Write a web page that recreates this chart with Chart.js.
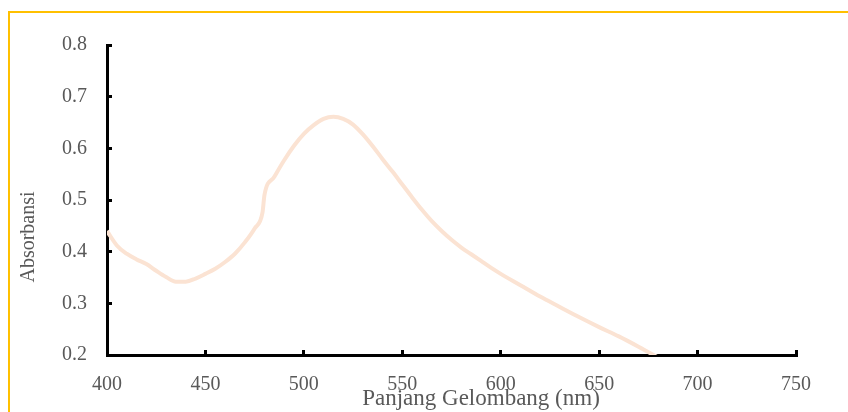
<!DOCTYPE html>
<html>
<head>
<meta charset="utf-8">
<script src="https://cdn.jsdelivr.net/npm/chart.js@4.4.1/dist/chart.umd.min.js"></script>
<style>
  html, body { margin: 0; padding: 0; background: #fff; }
  #wrap { position: relative; width: 848px; height: 412px; overflow: hidden; }
  #frame { position: absolute; left: 8px; top: 11px; width: 900px; height: 500px;
           border-top: 2px solid #FFC000; border-left: 2px solid #FFC000; }
  #absChart { position: absolute; left: 0; top: 0; }
</style>
</head>
<body>
<div id="wrap">
  <div id="frame"></div>
  <canvas id="absChart" width="848" height="412"></canvas>
</div>
<script>
// Spectrum
const wavelengths = [400, 405, 410, 415, 420, 425, 430, 435, 440, 445, 450, 455, 460, 465, 470, 475, 479,
    480, 485, 490, 495, 500, 505, 510, 515, 520, 525, 530, 535, 540, 545, 550, 555, 560, 565, 570, 575,
    580, 585, 590, 595, 600, 610, 620, 630, 640, 650, 660, 670, 680];
const absorbance = [0.440, 0.412, 0.396, 0.385, 0.376, 0.363, 0.351, 0.342, 0.342, 0.348, 0.357, 0.367, 0.380,
    0.396, 0.418, 0.445, 0.476,
    0.510, 0.545, 0.577, 0.605, 0.628, 0.645, 0.657, 0.661, 0.657, 0.646, 0.627, 0.604, 0.579, 0.555, 0.530,
    0.505, 0.481, 0.459, 0.440, 0.423,
    0.408, 0.395, 0.382, 0.369, 0.357, 0.335, 0.313, 0.293, 0.273, 0.254, 0.236, 0.216, 0.195];
const xTitle = 'Panjang Gelombang (nm)';
const yTitle = 'Absorbansi';

const textGray = '#595959';
const serif = "'Liberation Serif', 'Times New Roman', serif";

// axis titles sit off-centre in the original, so place them by hand
const axisTitles = {
    id: 'axisTitles',
    afterDraw(chart) {
        const ctx = chart.ctx;
        ctx.save();
        ctx.fillStyle = textGray;
        ctx.textAlign = 'center';
        ctx.textBaseline = 'alphabetic';
        ctx.font = '23px ' + serif;
        ctx.fillText(xTitle, 481, 405);
        ctx.font = '20px ' + serif;
        ctx.translate(34, 237);
        ctx.rotate(-Math.PI / 2);
        ctx.fillText(yTitle, 0, 0);
        ctx.restore();
    }
};

new Chart(document.getElementById('absChart'), {
    type: 'line',
    data: {
        datasets: [{
            data: wavelengths.map((w, i) => ({ x: w, y: absorbance[i] })),
            borderColor: '#FBE3D3',
            borderWidth: 4,
            pointRadius: 0,
            cubicInterpolationMode: 'monotone',
            fill: false
        }]
    },
    options: {
        responsive: false,
        animation: false,
        layout: { padding: { top: 45, right: 52, left: 0, bottom: 0 } },
        plugins: { legend: { display: false }, tooltip: { enabled: false } },
        scales: {
            x: {
                type: 'linear',
                min: 400,
                max: 750,
                afterFit: s => { s.height = 57; },
                border: { color: '#000', width: 3 },
                grid: { drawOnChartArea: false, drawTicks: true, tickLength: -5, tickWidth: 3, color: '#000' },
                ticks: {
                    stepSize: 50,
                    padding: 23,
                    maxRotation: 0,
                    color: textGray,
                    font: { family: serif, size: 20 }
                }
            },
            y: {
                min: 0.2,
                max: 0.8,
                afterFit: s => { s.width = 107; },
                border: { color: '#000', width: 3 },
                grid: { drawOnChartArea: false, drawTicks: true, tickLength: -5, tickWidth: 3, color: '#000' },
                ticks: {
                    stepSize: 0.1,
                    padding: 25,
                    color: textGray,
                    font: { family: serif, size: 20 },
                    callback: v => v.toFixed(1)
                }
            }
        }
    },
    plugins: [axisTitles]
});
</script>
</body>
</html>
